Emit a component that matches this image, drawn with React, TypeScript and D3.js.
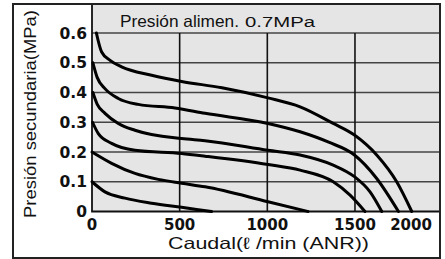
import { useEffect, useRef } from 'react';
import * as d3 from 'd3';

// Pressure curves, one per set pressure: [flow l/min, pressure MPa]
const curve06: [number, number][] = [
  [25, 0.6], [55, 0.536], [103, 0.508], [169, 0.486], [340, 0.458], [511, 0.437],
  [741, 0.416], [1004, 0.382], [1187, 0.352], [1376, 0.296], [1497, 0.257],
  [1624, 0.19], [1738, 0.1], [1824, 0],
];
const curve05: [number, number][] = [
  [5, 0.5], [30, 0.45], [74, 0.413], [150, 0.38], [264, 0.36], [473, 0.348],
  [645, 0.33], [1004, 0.296], [1187, 0.268], [1350, 0.233], [1497, 0.19],
  [1624, 0.111], [1748, 0],
];
const curve04: [number, number][] = [
  [5, 0.4], [30, 0.36], [74, 0.33], [150, 0.296], [245, 0.273], [511, 0.245],
  [645, 0.238], [1004, 0.206], [1187, 0.19], [1376, 0.156], [1497, 0.117],
  [1586, 0.066], [1653, 0],
];
const curve03: [number, number][] = [
  [3, 0.3], [36, 0.262], [112, 0.229], [245, 0.206], [511, 0.195], [645, 0.186],
  [1004, 0.158], [1187, 0.139], [1376, 0.1], [1472, 0.055], [1557, 0],
];
const curve02: [number, number][] = [
  [0, 0.2], [112, 0.162], [245, 0.128], [378, 0.108], [511, 0.095], [645, 0.083],
  [1004, 0.033], [1232, 0],
];
const curve01: [number, number][] = [
  [0, 0.1], [74, 0.066], [188, 0.045], [340, 0.028], [511, 0.014], [682, 0],
];

const yTicks = [0, 0.1, 0.2, 0.3, 0.4, 0.5, 0.6];
const yTickLabels = ['0', '0.1', '0.2', '0.3', '0.4', '0.5', '0.6'];
const xTicks = [0, 500, 1000, 1500, 2000];
const xTickLabels = ['0', '500', '1000', '1500', '2000'];
const xGrid = [500, 1000, 1500];

const App = () => {
  const svgRef = useRef<SVGSVGElement>(null);

  useEffect(() => {
    const width = 445;
    const height = 259;
    const svg = d3.select(svgRef.current);
    svg.selectAll('*').remove();
    svg.attr('width', width).attr('height', height);

    const frame = { left: 13, top: 4, right: 440, bottom: 258 };
    const plot = { left: 92, top: 4, right: 440, bottom: 211.5 };

    const x = d3.scaleLinear().domain([0, 1985]).range([plot.left, plot.right]);
    const y = d3.scaleLinear().domain([0, 0.6]).range([plot.bottom, 33]);

    // white page + gray plot panel
    svg.append('rect').attr('width', width).attr('height', height).attr('fill', '#fff');
    svg
      .append('rect')
      .attr('x', plot.left)
      .attr('y', plot.top)
      .attr('width', plot.right - plot.left)
      .attr('height', plot.bottom - plot.top)
      .attr('fill', '#e5e5e5');

    // horizontal grid
    svg
      .append('g')
      .selectAll('line')
      .data(yTicks.filter(d => d > 0))
      .enter()
      .append('line')
      .attr('x1', plot.left)
      .attr('x2', plot.right)
      .attr('y1', d => y(d))
      .attr('y2', d => y(d))
      .attr('stroke', '#444')
      .attr('stroke-width', 1.6);

    // vertical grid
    svg
      .append('g')
      .selectAll('line')
      .data(xGrid)
      .enter()
      .append('line')
      .attr('x1', d => x(d))
      .attr('x2', d => x(d))
      .attr('y1', y(0.6))
      .attr('y2', plot.bottom)
      .attr('stroke', '#111')
      .attr('stroke-width', 1.6);

    // plot panel edges
    svg
      .append('path')
      .attr('d', `M${plot.left},${plot.top}V${plot.bottom}H${plot.right}`)
      .attr('fill', 'none')
      .attr('stroke', '#111')
      .attr('stroke-width', 1.8);

    // curves
    const line = d3
      .line<[number, number]>()
      .x(d => x(d[0]))
      .y(d => y(d[1]))
      .curve(d3.curveMonotoneX);

    svg
      .append('g')
      .selectAll('path')
      .data([curve06, curve05, curve04, curve03, curve02, curve01])
      .enter()
      .append('path')
      .attr('d', d => line(d))
      .attr('fill', 'none')
      .attr('stroke', '#000')
      .attr('stroke-width', 3)
      .attr('stroke-linecap', 'round');

    // outer frame
    svg
      .append('rect')
      .attr('x', frame.left)
      .attr('y', frame.top)
      .attr('width', frame.right - frame.left)
      .attr('height', frame.bottom - frame.top)
      .attr('fill', 'none')
      .attr('stroke', '#222')
      .attr('stroke-width', 2);

    // y tick labels
    svg
      .append('g')
      .selectAll('text')
      .data(yTicks)
      .enter()
      .append('text')
      .attr('x', 87)
      .attr('y', d => y(d))
      .attr('dy', '0.36em')
      .attr('text-anchor', 'end')
      .style('font-family', 'DejaVu Sans')
      .style('font-weight', 'bold')
      .style('font-size', '15.5px')
      .style('fill', '#111')
      .text((d, i) => yTickLabels[i]);

    // x tick labels
    svg
      .append('g')
      .selectAll('text')
      .data(xTicks)
      .enter()
      .append('text')
      .attr('x', d => Math.min(x(d), 411))
      .attr('y', 230)
      .attr('text-anchor', 'middle')
      .style('font-family', 'DejaVu Sans')
      .style('font-weight', 'bold')
      .style('font-size', '15px')
      .style('fill', '#111')
      .text((d, i) => xTickLabels[i]);

    // title inside panel
    svg
      .append('text')
      .attr('x', 120)
      .attr('y', 27)
      .attr('textLength', 119)
      .attr('lengthAdjust', 'spacingAndGlyphs')
      .style('font-family', 'Liberation Sans, Arial, sans-serif')
      .style('font-size', '16.5px')
      .style('fill', '#111')
      .text('Presión alimen.');
    svg
      .append('text')
      .attr('x', 245)
      .attr('y', 27)
      .attr('textLength', 70)
      .attr('lengthAdjust', 'spacingAndGlyphs')
      .style('font-family', 'Liberation Sans, Arial, sans-serif')
      .style('font-size', '14px')
      .style('fill', '#111')
      .text('0.7MPa');

    // axis titles
    svg
      .append('text')
      .attr('x', 168)
      .attr('y', 249)
      .attr('textLength', 201)
      .attr('lengthAdjust', 'spacingAndGlyphs')
      .style('font-family', 'Liberation Sans, Arial, sans-serif')
      .style('font-size', '16.5px')
      .style('fill', '#111')
      .text('Caudal(ℓ /min  (ANR))');

    svg
      .append('text')
      .attr('transform', `translate(36, 218) rotate(-90)`)
      .attr('textLength', 208)
      .attr('lengthAdjust', 'spacingAndGlyphs')
      .style('font-family', 'Liberation Sans, Arial, sans-serif')
      .style('font-size', '17px')
      .style('fill', '#111')
      .text('Presión secundaria(MPa)');
  }, []);

  return (
    <div>
      <svg ref={svgRef} style={{ position: 'absolute', left: 0, top: 0 }}></svg>
    </div>
  );
};

export default App;
